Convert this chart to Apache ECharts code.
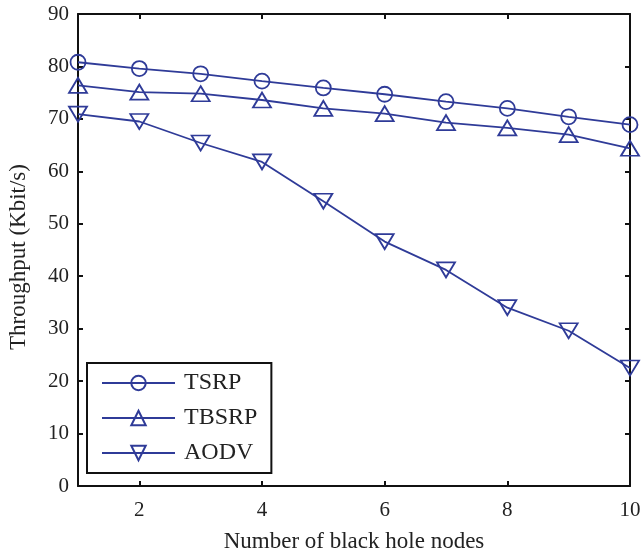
<!DOCTYPE html>
<html>
<head>
<meta charset="utf-8">
<script src="https://cdn.jsdelivr.net/npm/echarts@6/dist/echarts.min.js"></script>
<style>
  html, body { margin: 0; padding: 0; background: #fff; }
  #chart { width: 643px; height: 552px; }
</style>
</head>
<body>
<div id="chart"></div>
<script>
const nodes = [1, 2, 3, 4, 5, 6, 7, 8, 9, 10];
const tsrp = [80.8, 79.6, 78.6, 77.2, 75.9, 74.7, 73.3, 72.0, 70.4, 68.9];
const tbsrp = [76.4, 75.1, 74.8, 73.6, 72.0, 71.0, 69.3, 68.3, 67.0, 64.4];
const aodv = [70.9, 69.5, 65.4, 61.8, 54.3, 46.6, 41.2, 34.0, 29.6, 22.5];
const xTicks = [2, 4, 6, 8, 10];

const blue = '#2f3b98';
const font = '"Liberation Serif", "Times New Roman", serif';

const pair = (ys) => nodes.map((x, i) => [x, ys[i]]);

function makeSeries(name, ys, symbol, size, rotate) {
	return {
		name: name,
		type: 'line',
		data: pair(ys),
		symbol: symbol,
		symbolSize: size,
		symbolRotate: rotate || 0,
		showAllSymbol: true,
		lineStyle: { color: blue, width: 1.8 },
		itemStyle: { color: 'transparent', borderColor: blue, borderWidth: 1.8 },
		emphasis: { disabled: true },
		z: 3
	};
}

const axisLine = { show: true, onZero: false, lineStyle: { color: '#111', width: 2 } };
const tick = { show: true, inside: true, length: 5, lineStyle: { color: '#111', width: 2 } };

const chart = echarts.init(document.getElementById('chart'));
chart.setOption({
	animation: false,
	backgroundColor: '#fff',
	grid: { left: 78, right: 13, top: 14, bottom: 66, containLabel: false, outerBoundsMode: 'none' },
	legend: {
		orient: 'vertical',
		left: 87,
		top: 363,
		padding: [8, 14, 8, 14],
		itemWidth: 73,
		itemHeight: 18,
		itemGap: 11,
		borderColor: '#111',
		borderWidth: 2,
		backgroundColor: '#fff',
		textStyle: { fontFamily: font, fontSize: 24, lineHeight: 24, color: '#222', padding: [0, 0, 0, 4] },
		data: ['TSRP', 'TBSRP', 'AODV']
	},
	xAxis: [
		{
			type: 'value', min: 1, max: 10, position: 'bottom',
			name: 'Number of black hole nodes', nameLocation: 'middle', nameGap: 44,
			nameTextStyle: { fontFamily: font, fontSize: 23, color: '#222' },
			axisLine: axisLine,
			axisTick: Object.assign({ customValues: xTicks }, tick),
			axisLabel: { customValues: xTicks, fontFamily: font, fontSize: 21, color: '#222', margin: 14 },
			splitLine: { show: false }
		},
		{
			type: 'value', min: 1, max: 10, position: 'top',
			axisLine: axisLine,
			axisTick: Object.assign({ customValues: xTicks }, tick),
			axisLabel: { show: false },
			splitLine: { show: false }
		}
	],
	yAxis: [
		{
			type: 'value', min: 0, max: 90, interval: 10, position: 'left',
			name: 'Throughput (Kbit/s)', nameLocation: 'middle', nameGap: 48,
			nameTextStyle: { fontFamily: font, fontSize: 23, color: '#222', padding: [0, 14, 0, 0] },
			axisLine: axisLine,
			axisTick: tick,
			axisLabel: { fontFamily: font, fontSize: 21, color: '#222', margin: 9 },
			splitLine: { show: false }
		},
		{
			type: 'value', min: 0, max: 90, interval: 10, position: 'right',
			axisLine: axisLine,
			axisTick: tick,
			axisLabel: { show: false },
			splitLine: { show: false }
		}
	],
	series: [
		makeSeries('TSRP', tsrp, 'circle', 15),
		makeSeries('TBSRP', tbsrp, 'triangle', [18, 15]),
		makeSeries('AODV', aodv, 'triangle', [18, 15], 180)
	]
});
</script>
</body>
</html>
